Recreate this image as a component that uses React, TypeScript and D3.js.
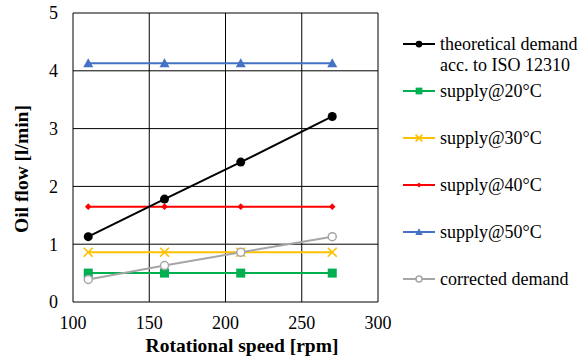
import React, { useEffect, useRef } from 'react'
import * as d3 from 'd3'

const speeds = [110, 160, 210, 270]
const theoretical = [1.13, 1.78, 2.42, 3.21]
const supply20 = [0.5, 0.5, 0.5, 0.5]
const supply30 = [0.86, 0.86, 0.86, 0.86]
const supply40 = [1.65, 1.65, 1.65, 1.65]
const supply50 = [4.13, 4.13, 4.13, 4.13]
const corrected = [0.39, 0.63, 0.86, 1.13]
const xTicks = [100, 150, 200, 250, 300]
const yTicks = [0, 1, 2, 3, 4, 5]

const seriesList = [
  { name: ['theoretical demand', 'acc. to ISO 12310'], values: theoretical, color: '#000000', marker: 'circle' },
  { name: ['supply@20°C'], values: supply20, color: '#00b050', marker: 'square' },
  { name: ['supply@30°C'], values: supply30, color: '#ffc000', marker: 'x' },
  { name: ['supply@40°C'], values: supply40, color: '#ff0000', marker: 'diamond' },
  { name: ['supply@50°C'], values: supply50, color: '#4472c4', marker: 'triangle' },
  { name: ['corrected demand'], values: corrected, color: '#a6a6a6', marker: 'ring' },
]

function drawMarker(g: any, type: string, color: string, cx: number, cy: number, big: boolean) {
  const s = big ? 1 : 0.75
  if (type === 'circle') {
    g.append('circle').attr('cx', cx).attr('cy', cy).attr('r', 4.5 * s).attr('fill', color)
  } else if (type === 'square') {
    g.append('rect').attr('x', cx - 4.5 * s).attr('y', cy - 4.5 * s)
      .attr('width', 9 * s).attr('height', 9 * s).attr('fill', color)
  } else if (type === 'x') {
    const r = 4.5 * s
    g.append('path').attr('d', `M${cx - r},${cy - r}L${cx + r},${cy + r}M${cx - r},${cy + r}L${cx + r},${cy - r}`)
      .attr('stroke', color).attr('stroke-width', 1.6)
  } else if (type === 'diamond') {
    const r = 3.3 * s
    g.append('path').attr('d', `M${cx},${cy - r}L${cx + r},${cy}L${cx},${cy + r}L${cx - r},${cy}Z`).attr('fill', color)
  } else if (type === 'triangle') {
    const r = 5 * s
    g.append('path').attr('d', `M${cx},${cy - r}L${cx + r},${cy + r * 0.8}L${cx - r},${cy + r * 0.8}Z`).attr('fill', color)
  } else if (type === 'ring') {
    g.append('circle').attr('cx', cx).attr('cy', cy).attr('r', 4 * s)
      .attr('fill', 'white').attr('stroke', color).attr('stroke-width', 1.5)
  }
}

export default function App() {
  const ref = useRef<SVGSVGElement>(null)

  useEffect(() => {
    const svg = d3.select(ref.current)
    svg.selectAll('*').remove()

    const left = 73, right = 378, top = 13, bottom = 302
    const x = d3.scaleLinear().domain([100, 300]).range([left, right])
    const y = d3.scaleLinear().domain([0, 5]).range([bottom, top])
    const font = '"Liberation Serif", "Times New Roman", serif'

    svg.append('rect').attr('width', 579).attr('height', 359).attr('fill', 'white')

    const grid = svg.append('g')
    yTicks.forEach(t => {
      grid.append('line').attr('x1', left).attr('x2', right).attr('y1', y(t)).attr('y2', y(t))
        .attr('stroke', '#000').attr('stroke-width', 1)
      svg.append('text').attr('x', left - 15).attr('y', y(t)).attr('dy', '0.35em')
        .attr('text-anchor', 'end').attr('font-family', font).attr('font-size', 18).text(t)
    })
    xTicks.forEach(t => {
      grid.append('line').attr('x1', x(t)).attr('x2', x(t)).attr('y1', top).attr('y2', bottom)
        .attr('stroke', '#000').attr('stroke-width', 1)
      svg.append('text').attr('x', x(t)).attr('y', 323).attr('dy', '0.35em')
        .attr('text-anchor', 'middle').attr('font-family', font).attr('font-size', 18).text(t)
    })

    svg.append('text').attr('x', 242).attr('y', 345).attr('dy', '0.35em')
      .attr('text-anchor', 'middle').attr('font-family', font).attr('font-size', 19.5)
      .attr('font-weight', 'bold').text('Rotational speed [rpm]')
    svg.append('text').attr('transform', `translate(21,169) rotate(-90)`)
      .attr('dy', '0.35em').attr('text-anchor', 'middle').attr('font-family', font)
      .attr('font-size', 19.5).attr('font-weight', 'bold').text('Oil flow [l/min]')

    const line = d3.line<number>().x((d, i) => x(speeds[i])).y(d => y(d))

    // green first, black last so it sits on top
    const order = [1, 2, 3, 4, 5, 0]
    order.forEach(k => {
      const s = seriesList[k]
      const g = svg.append('g')
      g.append('path').datum(s.values).attr('d', line).attr('fill', 'none')
        .attr('stroke', s.color).attr('stroke-width', 2)
      s.values.forEach((v, i) => drawMarker(g, s.marker, s.color, x(speeds[i]), y(v), true))
    })

    const legendY = [44, 91, 138, 185, 232, 279]
    seriesList.forEach((s, k) => {
      const ly = legendY[k]
      const g = svg.append('g')
      g.append('line').attr('x1', 403).attr('x2', 435).attr('y1', ly).attr('y2', ly)
        .attr('stroke', s.color).attr('stroke-width', 2)
      drawMarker(g, s.marker, s.color, 419, ly, false)
      s.name.forEach((n, j) => {
        g.append('text').attr('x', 440).attr('y', ly + j * 21).attr('dy', '0.35em')
          .attr('font-family', font).attr('font-size', 18).text(n)
      })
    })
  }, [])

  return <svg ref={ref} width={579} height={359} style={{ position: 'absolute', left: 0, top: 0 }} />
}
